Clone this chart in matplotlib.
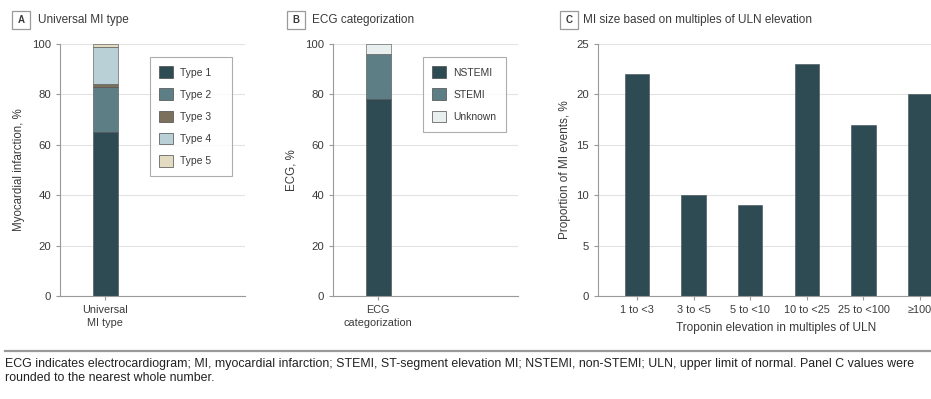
import matplotlib
matplotlib.use("Agg")
import matplotlib.pyplot as plt
from matplotlib.patches import Patch, Rectangle

plt.rcParams['font.family'] = ['Liberation Sans', 'DejaVu Sans']

# ---- data ----
mi_types = ['Type 1', 'Type 2', 'Type 3', 'Type 4', 'Type 5']
mi_values = [65, 18, 1, 15, 1]
mi_colors = ['#2e4b53', '#5d7e85', '#7b705c', '#b9d0d6', '#e3dcc3']

ecg_cats = ['NSTEMI', 'STEMI', 'Unknown']
ecg_values = [78, 18, 4]
ecg_colors = ['#2e4b53', '#5d7e85', '#e9efef']

trop_labels = ['1 to <3', '3 to <5', '5 to <10', '10 to <25', '25 to <100', '\u2265100']
trop_values = [22, 10, 9, 23, 17, 20]

TXT = '#3a3a3a'
GRID = '#e3e3e3'
SPINE = '#9a9a9a'

fig = plt.figure(figsize=(9.31, 3.99), dpi=100)
W, H = 931, 399

def ax_at(x0, y0, x1, y1):
    return fig.add_axes([x0 / W, 1 - y1 / H, (x1 - x0) / W, (y1 - y0) / H])

def style(ax):
    for s in ['top', 'right']:
        ax.spines[s].set_visible(False)
    for s in ['left', 'bottom']:
        ax.spines[s].set_color(SPINE)
        ax.spines[s].set_linewidth(0.8)
    ax.tick_params(colors=SPINE, labelcolor=TXT, labelsize=8.2, length=3, width=0.8)
    ax.yaxis.grid(True, color=GRID, lw=0.8)
    ax.set_axisbelow(True)

def panel_title(bx0, letter, tx, text):
    fig.add_artist(Rectangle((bx0 / W, 1 - 29 / H), 18 / W, 18 / H, transform=fig.transFigure,
                             fc='white', ec='#9a9a9a', lw=0.9))
    fig.text((bx0 + 9) / W, 1 - 20 / H, letter, fontsize=7, fontweight='bold', color=TXT,
             ha='center', va='center')
    fig.text(tx / W, 1 - 20 / H, text, fontsize=8.5, color=TXT, ha='left', va='center')

def make_legend(ax, handles, x_px, y_px, ax_x0):
    leg = ax.legend(handles=handles, loc='upper left',
                    bbox_to_anchor=((x_px - ax_x0) / 185, (296 - y_px) / 252),
                    fontsize=7.5, frameon=True, fancybox=False, edgecolor='#999999',
                    handlelength=1.3, handleheight=1.35, labelspacing=1.0, borderpad=0.9,
                    handletextpad=0.7, borderaxespad=0)
    for t in leg.get_texts():
        t.set_color(TXT)
    leg.get_frame().set_linewidth(0.8)
    return leg

# ---- Panel A ----
axA = ax_at(60, 44, 245, 296)
style(axA)
bottom = 0
handles = []
for lab, v, c in zip(mi_types, mi_values, mi_colors):
    axA.bar(0, v, width=0.5, bottom=bottom, color=c, edgecolor='#4a4a4a', lw=0.4)
    bottom += v
    handles.append(Patch(facecolor=c, edgecolor='#4a4a4a', lw=0.5, label=lab + '    '))
axA.set_xlim(-0.9, 2.8)
axA.set_ylim(0, 100)
axA.set_yticks([0, 20, 40, 60, 80, 100])
axA.set_xticks([0])
axA.set_xticklabels(['Universal\nMI type'], linespacing=1.35, fontsize=7.8)
axA.set_ylabel('Myocardial infarction, %', fontsize=8.3, color=TXT, labelpad=5)
make_legend(axA, handles, 150, 57, 60)
panel_title(12, 'A', 38, 'Universal MI type')

# ---- Panel B ----
axB = ax_at(333, 44, 518, 296)
style(axB)
bottom = 0
handles = []
for lab, v, c in zip(ecg_cats, ecg_values, ecg_colors):
    axB.bar(0, v, width=0.5, bottom=bottom, color=c, edgecolor='#4a4a4a', lw=0.4)
    bottom += v
    handles.append(Patch(facecolor=c, edgecolor='#4a4a4a', lw=0.5, label=lab))
axB.set_xlim(-0.9, 2.8)
axB.set_ylim(0, 100)
axB.set_yticks([0, 20, 40, 60, 80, 100])
axB.set_xticks([0])
axB.set_xticklabels(['ECG\ncategorization'], linespacing=1.35, fontsize=7.8)
axB.set_ylabel('ECG, %', fontsize=8.3, color=TXT, labelpad=5)
make_legend(axB, handles, 423, 57, 333)
panel_title(287, 'B', 312, 'ECG categorization')

# ---- Panel C ----
axC = ax_at(598, 44, 954, 296)
style(axC)
xs = list(range(len(trop_labels)))
axC.bar(xs, trop_values, width=0.43, color='#2e4b53', edgecolor='#3d4f52', lw=0.4)
axC.set_xlim(-0.69, 5.6)
axC.set_ylim(0, 25)
axC.set_yticks([0, 5, 10, 15, 20, 25])
axC.set_xticks(xs)
axC.set_xticklabels(trop_labels, fontsize=7.8)
axC.set_ylabel('Proportion of MI events, %', fontsize=8.5, color=TXT, labelpad=4)
axC.set_xlabel('Troponin elevation in multiples of ULN', fontsize=8.6, color=TXT, labelpad=5)
panel_title(560, 'C', 583, 'MI size based on multiples of ULN elevation')

# ---- Caption ----
fig.add_artist(plt.Line2D([5 / W, 1.0], [1 - 351 / H] * 2, color='#9a9a9a', lw=1.6))
fig.text(5 / W, 1 - 364 / H,
         'ECG indicates electrocardiogram; MI, myocardial infarction; STEMI, ST-segment elevation MI; '
         'NSTEMI, non-STEMI; ULN, upper limit of normal. Panel C values were',
         fontsize=8.95, color='#222222', ha='left', va='center')
fig.text(5 / W, 1 - 378 / H, 'rounded to the nearest whole number.',
         fontsize=8.95, color='#222222', ha='left', va='center')

fig.savefig('out.png', dpi=100, facecolor='white')
